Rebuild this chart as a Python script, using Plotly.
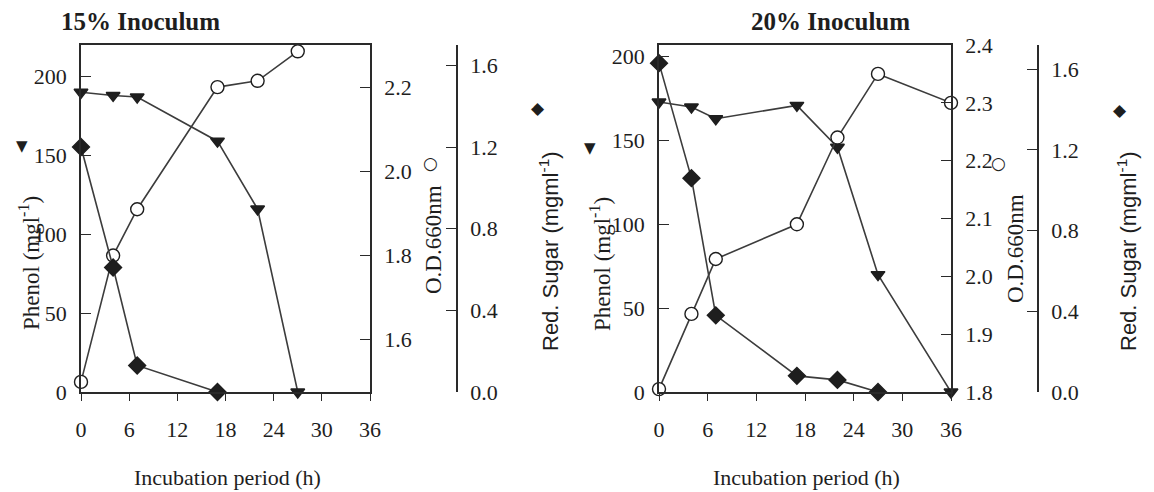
import plotly.graph_objects as go

W, H = 1154, 492

# ---- data -------------------------------------------------------------
x_ticks = [0, 6, 12, 18, 24, 30, 36]

# 15 % inoculum
t15_phenol = [0, 4, 7, 17, 22, 27]
phenol15 = [190, 188, 187, 159, 116, 0]
t15_od = [0, 4, 7, 17, 22, 27]
od15 = [1.50, 1.80, 1.91, 2.20, 2.215, 2.285]
t15_sugar = [0, 4, 7, 17]
sugar15 = [1.20, 0.61, 0.13, 0.0]

# 20 % inoculum
t20_phenol = [0, 4, 7, 17, 22, 27, 36]
phenol20 = [173, 170, 163, 171, 146, 70, 0]
t20_od = [0, 4, 7, 17, 22, 27, 36]
od20 = [1.805, 1.935, 2.03, 2.09, 2.24, 2.35, 2.30]
t20_sugar = [0, 4, 7, 17, 22, 27]
sugar20 = [1.63, 1.06, 0.38, 0.08, 0.06, 0.0]

phenol_ticks = [0, 50, 100, 150, 200]
od15_ticks = [1.6, 1.8, 2.0, 2.2]
od20_ticks = [1.8, 1.9, 2.0, 2.1, 2.2, 2.3, 2.4]
sugar_ticks = [0.0, 0.4, 0.8, 1.2, 1.6]

panel_titles = ["15% Inoculum", "20% Inoculum"]
x_title = "Incubation period (h)"

# ---- styling ----------------------------------------------------------
INK = "#1e1e1e"
LINE = "#3c3c3c"
SERIF = "Liberation Serif, Times New Roman, serif"
SANS = "Liberation Sans, Arial, sans-serif"
TICK_FONT = dict(family=SERIF, size=22, color=INK)


def px(x):
    return x / W


def py(y):
    return 1 - y / H


Y_DOM = [py(392), py(45)]
X_DOM_L = [px(81), px(370)]
X_DOM_R = [px(659), px(951)]

fig = go.Figure()


def add_series(x, y, xa, ya, symbol, size, fill):
    fig.add_trace(go.Scatter(
        x=x, y=y, xaxis=xa, yaxis=ya, mode="lines+markers",
        line=dict(color=LINE, width=1.6),
        marker=dict(symbol=symbol, size=size, color=fill,
                    line=dict(color=INK, width=1.4)),
        cliponaxis=False, showlegend=False, hoverinfo="x+y"))


# left panel
add_series(t15_sugar, sugar15, "x", "y3", "diamond", 13, INK)
add_series(t15_od, od15, "x", "y2", "circle", 13, "white")
add_series(t15_phenol, phenol15, "x", "y", "triangle-down", 12, INK)
# right panel
add_series(t20_sugar, sugar20, "x2", "y6", "diamond", 13, INK)
add_series(t20_od, od20, "x2", "y5", "circle", 13, "white")
add_series(t20_phenol, phenol20, "x2", "y4", "triangle-down", 12, INK)

common_x = dict(range=[0, 36], tickvals=x_ticks, showline=True, linecolor="#2a2a2a",
                linewidth=1.8, mirror=True, ticks="outside", ticklen=7, tickwidth=1.3,
                tickcolor="#2a2a2a", tickfont=TICK_FONT, showgrid=False, zeroline=False,
                ticklabelstandoff=10, automargin=False)
common_y = dict(showline=True, linecolor="#2a2a2a", linewidth=1.8, ticks="inside",
                ticklen=10, tickwidth=1.3, tickcolor="#2a2a2a", tickfont=TICK_FONT,
                showgrid=False, zeroline=False, domain=Y_DOM, ticklabelstandoff=8,
                automargin=False)

fig.update_layout(
    width=W, height=H, margin=dict(l=0, r=0, t=0, b=0, pad=0, autoexpand=False),
    paper_bgcolor="white", plot_bgcolor="white",
    xaxis=dict(domain=X_DOM_L, anchor="y", **common_x),
    xaxis2=dict(domain=X_DOM_R, anchor="y4", **common_x),
    yaxis=dict(anchor="x", range=[0, 220], tickvals=phenol_ticks, side="left", **common_y),
    yaxis2=dict(anchor="x", overlaying="y", side="right", range=[1.476, 2.3],
                tickvals=od15_ticks, tickformat=".1f", **common_y),
    yaxis3=dict(anchor="free", overlaying="y", side="right", position=px(457),
                range=[0, 1.70], tickvals=sugar_ticks, tickformat=".1f", **common_y),
    yaxis4=dict(anchor="x2", range=[0, 207], tickvals=phenol_ticks, side="left", **common_y),
    yaxis5=dict(anchor="x2", overlaying="y4", side="right", range=[1.8, 2.4],
                tickvals=od20_ticks, tickformat=".1f", **common_y),
    yaxis6=dict(anchor="free", overlaying="y4", side="right", position=px(1038),
                range=[0, 1.72], tickvals=sugar_ticks, tickformat=".1f", **common_y),
)

annotations = []


def text(x, y, s, size=22, family=SERIF, angle=0, bold=False):
    if bold:
        s = "<b>" + s + "</b>"
    annotations.append(dict(x=px(x), y=py(y), xref="paper", yref="paper", text=s,
                            showarrow=False, textangle=angle, xanchor="center",
                            yanchor="middle", font=dict(family=family, size=size, color=INK)))


# panel titles
text(140, 22, panel_titles[0], size=25, bold=True)
text(830, 22, panel_titles[1], size=25, bold=True)
# x-axis titles
text(227, 477, x_title, size=22)
text(806, 477, x_title, size=22)
# y-axis titles
phenol_title = "Phenol (mgl<sup>-1</sup>)"
od_title = "O.D.660nm"
sugar_title = "Red. Sugar (mgml<sup>-1</sup>)"
text(29, 263, phenol_title, angle=-90, size=23)
text(600, 264, phenol_title, angle=-90, size=23)
text(433, 240, od_title, angle=-90, size=23)
text(1015, 249, od_title, angle=-90, size=23)
text(549, 251, sugar_title, angle=-90, family=SANS, size=22)
text(1127, 251, sugar_title, angle=-90, family=SANS, size=22)

# series key symbols next to the axis titles
SYM = "DejaVu Sans, sans-serif"
text(22, 146, "\u25BC", size=15, family=SYM)
text(590, 148, "\u25BC", size=15, family=SYM)
text(430, 163, "\u25CB", size=17, family=SYM)
text(998, 163, "\u25CB", size=17, family=SYM)
text(538, 108, "\u25C6", size=17, family=SYM)
text(1120, 110, "\u25C6", size=17, family=SYM)

fig.update_layout(annotations=annotations)

fig.write_html("out.html")
